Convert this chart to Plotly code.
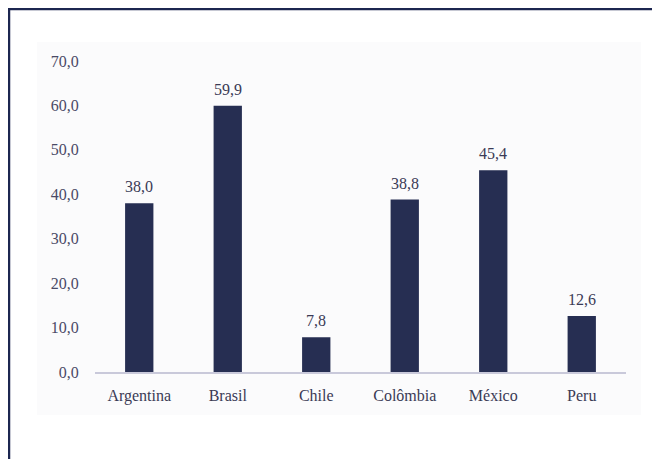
import plotly.graph_objects as go

countries = ["Argentina", "Brasil", "Chile", "Colômbia", "México", "Peru"]
values = [38.0, 59.9, 7.8, 38.8, 45.4, 12.6]
y_ticks = [0, 10, 20, 30, 40, 50, 60, 70]

OFF = 8  # page body margin
W, H = 660 - OFF, 459 - OFF
L, R, T, B = 95 - OFF, 626 - OFF, 61 - OFF, 372 - OFF

def px(x):
    return (x - OFF - L) / (R - L)

def py(y):
    return (B - (y - OFF)) / (B - T)

fig = go.Figure()
fig.add_trace(go.Bar(
    x=countries, y=values,
    marker=dict(color="#262e52", line=dict(width=0)),
    width=0.32,
))
for c, v in zip(countries, values):
    fig.add_annotation(
        x=c, y=v, text=f"{v:.1f}".replace(".", ","),
        showarrow=False, yanchor="bottom", yshift=6,
        font=dict(family="Liberation Serif", size=16, color="#3a3a55"),
    )

fig.update_layout(
    width=W, height=H,
    margin=dict(l=L, r=W - R, t=T, b=H - B, pad=0),
    paper_bgcolor="white", plot_bgcolor="rgba(0,0,0,0)",
    separators=",.",
    showlegend=False,
    font=dict(family="Liberation Serif", color="#4a4a66"),
    shapes=[
        dict(type="rect", xref="paper", yref="paper",
             x0=px(37), x1=px(641), y0=py(415), y1=py(42),
             fillcolor="#fbfbfc", line=dict(width=0), layer="below"),
        dict(type="line", xref="paper", yref="paper",
             x0=px(9), x1=px(9), y0=py(7.5), y1=py(470),
             line=dict(color="#1c2650", width=2.5)),
        dict(type="line", xref="paper", yref="paper",
             x0=px(7.8), x1=px(670), y0=py(9), y1=py(9),
             line=dict(color="#1c2650", width=2.5)),
    ],
)
fig.update_xaxes(
    showgrid=False, showline=True, linecolor="#c9c9da", linewidth=2,
    ticks="outside", ticklen=8, tickcolor="rgba(0,0,0,0)",
    tickfont=dict(family="Liberation Serif", size=16, color="#3a3a55"),
)
fig.update_yaxes(
    range=[0, 70], tickvals=y_ticks, tickformat=".1f",
    showgrid=False, zeroline=False, showline=False,
    ticks="outside", ticklen=12, tickcolor="rgba(0,0,0,0)",
    tickfont=dict(family="Liberation Serif", size=16, color="#4a4a66"),
)

fig.write_html("out.html")
